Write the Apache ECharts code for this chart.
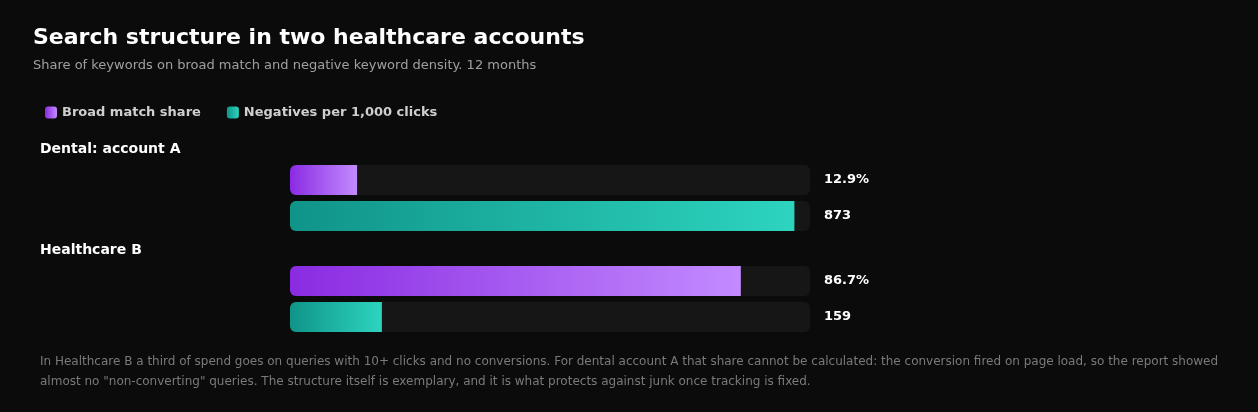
<!DOCTYPE html>
<html><head><meta charset="utf-8">
<script src="https://cdn.jsdelivr.net/npm/echarts@6/dist/echarts.min.js"></script>
<style>html,body{margin:0;background:#0b0b0b}#c{width:1258px;height:412px}</style>
</head><body><div id="c"></div>
<script>
const accounts = ['Dental: account A', 'Healthcare B'];
const broadShare = [12.9, 86.7];
const negatives = [873, 159];
const rows = ['Broad match share', 'Negatives per 1,000 clicks'];
const pctMax = 100, negMax = 900;

const chart = echarts.init(document.getElementById('c'));
const F = 'DejaVu Sans, sans-serif';
const purple = {type:'linear',x:0,y:0,x2:1,y2:0,colorStops:[{offset:0,color:'#8a2be2'},{offset:1,color:'#c38bff'}]};
const teal = {type:'linear',x:0,y:0,x2:1,y2:0,colorStops:[{offset:0,color:'#0f9488'},{offset:1,color:'#2dd4bf'}]};
const tops = [162, 263];
const grids = [], xAxes = [], yAxes = [], series = [];
accounts.forEach((a, g) => {
  grids.push({left:290, width:520, top:tops[g], height:72});
  xAxes.push({gridIndex:g, type:'value', min:0, max:pctMax, show:false});
  xAxes.push({gridIndex:g, type:'value', min:0, max:negMax, show:false});
  yAxes.push({gridIndex:g, type:'category', inverse:true, data:rows, show:false});
  const base = {type:'bar', barWidth:30, barGap:'-100%', yAxisIndex:g};
  series.push(Object.assign({}, base, {name:rows[0], xAxisIndex:2*g, data:[broadShare[g], '-'],
    showBackground:true, backgroundStyle:{color:'#161616', borderRadius:6},
    itemStyle:{color:purple, borderRadius:[6,0,0,6]}}));
  series.push(Object.assign({}, base, {name:rows[1], xAxisIndex:2*g+1, data:['-', negatives[g]],
    showBackground:true, backgroundStyle:{color:'#161616', borderRadius:6},
    itemStyle:{color:teal, borderRadius:[6,0,0,6]}}));
  series.push(Object.assign({}, base, {name:'lbl'+g, xAxisIndex:2*g, data:[pctMax, pctMax], silent:true,
    itemStyle:{color:'rgba(0,0,0,0)'},
    label:{show:true, position:'right', distance:14, color:'#ffffff', fontFamily:F, fontSize:13, fontWeight:'bold',
      formatter:p => p.dataIndex === 0 ? broadShare[g].toFixed(1) + '%' : String(negatives[g])}}));
});
chart.setOption({
  backgroundColor:'#0b0b0b',
  animation:false,
  title:{text:'Search structure in two healthcare accounts', left:28, top:22,
    textStyle:{color:'#ffffff', fontSize:22, fontWeight:'bold', fontFamily:F},
    subtext:'Share of keywords on broad match and negative keyword density. 12 months',
    subtextStyle:{color:'#a0a0a0', fontSize:13, fontFamily:F}, itemGap:10},
  legend:{left:40, top:101, data:rows, icon:'roundRect', itemWidth:12, itemHeight:12, itemGap:26,
    textStyle:{color:'#cfcfcf', fontSize:13, fontWeight:'bold', fontFamily:F}, selectedMode:false},
  grid:grids, xAxis:xAxes, yAxis:yAxes, series:series,
  graphic:[
    {type:'text', left:40, top:142, style:{text:accounts[0], fill:'#fff', font:'bold 14px '+F}},
    {type:'text', left:40, top:243, style:{text:accounts[1], fill:'#fff', font:'bold 14px '+F}},
    {type:'text', left:40, top:352, style:{text:'In Healthcare B a third of spend goes on queries with 10+ clicks and no conversions. For dental account A that share cannot be calculated: the conversion fired on page load, so the report showed\nalmost no "non-converting" queries. The structure itself is exemplary, and it is what protects against junk once tracking is fixed.', fill:'#7a7a7a', font:'12px '+F, lineHeight:20}}
  ]
});
</script></body></html>
